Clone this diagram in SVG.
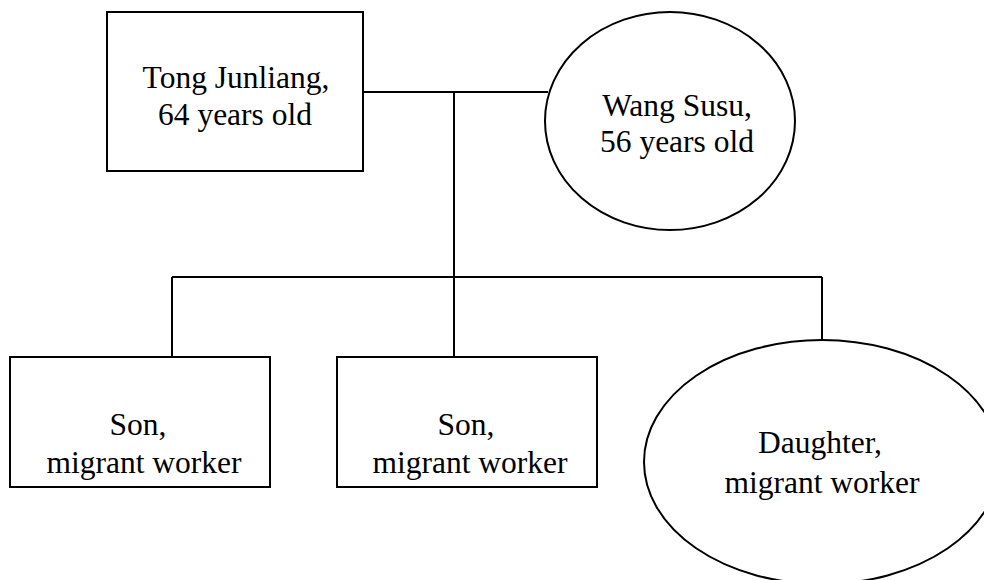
<svg xmlns="http://www.w3.org/2000/svg" width="984" height="580" viewBox="0 0 984 580">
  <style>
    .node { fill: #ffffff; stroke: #000000; stroke-width: 2; }
    .link { fill: none; stroke: #000000; stroke-width: 2; }
    .label { font-family: "Liberation Serif", "Times New Roman", serif; font-size: 31.5px; fill: #000000; text-anchor: middle; }
  </style>
  <rect width="984" height="580" fill="#ffffff"/>

  <!-- family tree connectors -->
  <g id="connectors">
    <path class="link" d="M363 92 H548"/>
    <path class="link" d="M454 92 V277"/>
    <path class="link" d="M172 277 H822"/>
    <path class="link" d="M172 277 V357"/>
    <path class="link" d="M454 277 V357"/>
    <path class="link" d="M822 277 V340"/>
  </g>

  <g id="father">
    <rect class="node" x="107" y="12" width="256" height="159"/>
    <text class="label" x="236" y="88">Tong Junliang,</text>
    <text class="label" x="235" y="125">64 years old</text>
  </g>

  <g id="mother">
    <ellipse class="node" cx="670" cy="121" rx="125" ry="109"/>
    <text class="label" x="677" y="116">Wang Susu,</text>
    <text class="label" x="677" y="152">56 years old</text>
  </g>

  <g id="son1">
    <rect class="node" x="10" y="357" width="260" height="130"/>
    <text class="label" x="138" y="435">Son,</text>
    <text class="label" x="144" y="473">migrant worker</text>
  </g>

  <g id="son2">
    <rect class="node" x="337" y="357" width="260" height="130"/>
    <text class="label" x="466" y="435">Son,</text>
    <text class="label" x="470" y="473">migrant worker</text>
  </g>

  <g id="daughter">
    <ellipse class="node" cx="822" cy="462" rx="178" ry="122"/>
    <text class="label" x="820" y="453">Daughter,</text>
    <text class="label" x="822" y="493">migrant worker</text>
  </g>
</svg>
